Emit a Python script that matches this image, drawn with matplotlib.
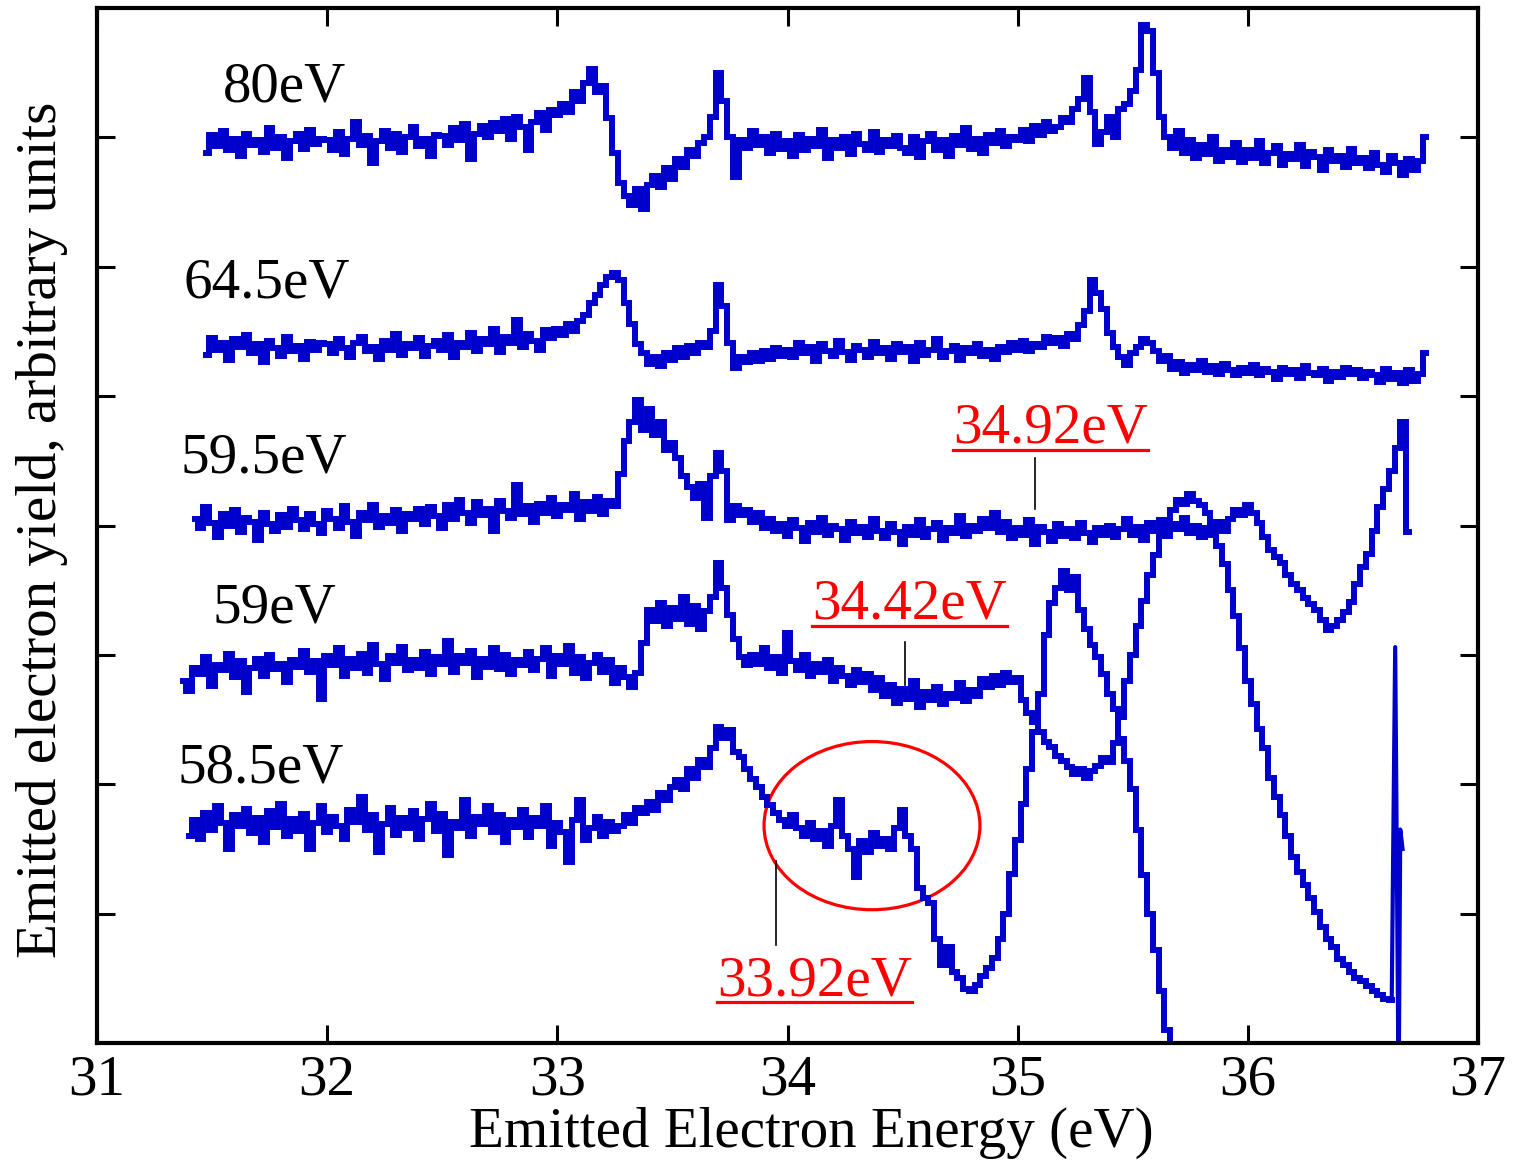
import matplotlib
matplotlib.use('Agg')
import matplotlib.pyplot as plt
from matplotlib.patches import Ellipse
from matplotlib.lines import Line2D
import numpy as np

# energy grid spacing of the scans (eV)
step = 0.025

# 80 eV photon energy, starts at 31.475 eV
y80 = [688, 702, 693, 705, 690, 699, 686, 703, 694, 698, 689, 707, 692, 700, 684, 697, 703, 691, 706, 695, 699,
       698, 690, 704, 687, 699, 712, 694, 701, 680, 697, 705, 692, 703, 689, 700, 708, 693, 699, 686, 702,
       701, 694, 707, 698, 710, 683, 703, 709, 700, 711, 705, 714, 699, 716, 708, 690, 712, 719, 706, 721,
       717, 726, 720, 735, 728, 742, 753, 735, 740, 715, 688, 665, 655, 648, 660, 645, 663, 670, 662, 676,
       668, 683, 677, 690, 686, 696, 700, 716, 750, 728, 700, 669, 698, 692, 705, 694, 700, 688, 703, 691,
       697, 686, 702, 690, 699, 693, 706, 684, 698, 692, 700, 687, 703, 695, 690, 704, 689, 698, 693, 701,
       692, 688, 700, 685, 697, 703, 690, 698, 686, 701, 694, 707, 691, 699, 688, 702, 696, 705, 693, 700,
       698, 706, 697, 709, 702, 712, 705, 708, 715, 712, 722, 730, 746, 720, 695, 704, 716, 700, 722, 726,
       736, 752, 787, 782, 750, 716, 700, 692, 705, 688, 698, 684, 694, 687, 700, 682, 690, 685, 696, 681,
       690, 684, 697, 680, 688, 693, 679, 687, 683, 694, 678, 689, 685, 675, 690, 682, 686, 677, 691, 680,
       684, 676, 688, 679, 673, 686, 680, 671, 683, 675, 682, 700]

# 64.5 eV, starts at 31.475 eV
y645 = [532, 545, 536, 541, 528, 544, 538, 547, 533, 540, 526, 543, 537, 531, 546, 535, 539, 529, 542, 536, 541,
        540, 533, 544, 537, 530, 541, 546, 535, 538, 529, 543, 536, 548, 532, 540, 537, 545, 531, 539, 543,
        536, 547, 530, 541, 538, 549, 535, 544, 540, 552, 534, 546, 541, 559, 538, 548, 543, 536, 551, 545,
        552, 547, 556, 550, 558, 563, 572, 578, 586, 592, 595, 590, 572, 556, 540, 533, 525, 530, 523, 533,
        528, 537, 530, 539, 533, 541, 538, 550, 586, 570, 541, 522, 530, 526, 533, 527, 535, 529, 537, 531,
        536, 530, 541, 533, 538, 527, 540, 535, 531, 543, 534, 528, 539, 536, 530, 542, 533, 537, 529, 540,
        534, 538, 527, 541, 532, 536, 544, 530, 535, 539, 528, 537, 533, 540, 531, 536, 529, 538, 534, 541,
        536, 543, 535, 540, 538, 546, 541, 545, 539, 548, 544, 555, 566, 590, 580, 567, 549, 538, 530, 524,
        533, 538, 544, 541, 535, 527, 531, 521, 526, 518, 524, 520, 527, 519, 523, 517, 525, 520, 516, 522,
        518, 524, 516, 521, 519, 513, 522, 517, 520, 514, 523, 518, 516, 521, 512, 519, 515, 522, 517, 520,
        514, 519, 516, 511, 521, 513, 518, 510, 520, 512, 517, 533]

# 59.5 eV, starts at 31.425 eV
y595 = [405, 398, 414, 402, 391, 409, 400, 412, 395, 406, 403, 389, 410, 401, 396, 408, 399, 413, 404, 397,
        409, 401, 394, 411, 405, 398, 415, 403, 392, 410, 404, 416, 399, 407, 402, 412, 396, 409, 405, 413,
        401, 414, 407, 398, 416, 405, 420, 410, 402, 418, 408, 413, 396, 419, 411, 406, 431, 409, 415, 403,
        417, 410, 421, 407, 416, 412, 424, 405, 418, 411, 422, 409, 419, 415, 440, 465, 480, 497, 474, 490,
        470, 480, 458, 464, 452, 438, 430, 421, 432, 406, 438, 456, 442, 404, 415, 408, 412, 403, 410, 398,
        405, 396, 401, 392, 404, 398, 388, 402, 395, 406, 393, 400, 397, 389, 403, 394, 399, 391, 405, 396,
        390, 401, 395, 386, 399, 393, 404, 391, 397, 402, 389, 398, 394, 407, 392, 400, 396, 405, 398, 410,
        395, 403, 390, 398, 393, 404, 386, 399, 395, 388, 401, 392, 397, 390, 402, 394, 387, 398, 393, 400,
        391, 397, 405, 393, 399, 389, 402, 396, 404, 392, 401, 397, 406, 394, 400, 391, 398, 393, 403, 396,
        405, 412, 408, 416, 410, 402, 391, 381, 376, 371, 362, 355, 350, 344, 339, 335, 327, 319, 322, 327,
        333, 341, 355, 368, 378, 396, 414, 428, 442, 460, 480, 395]

# 59 eV, starts at 31.375 eV, plus an irregular tail at the end
y59 = [280, 272, 290, 285, 298, 276, 292, 288, 301, 283, 295, 271, 290, 297, 284, 300, 289, 293, 279, 296,
       291, 303, 287, 295, 266, 299, 292, 305, 284, 297, 290, 301, 286, 308, 293, 281, 299, 294, 306, 288,
       296, 290, 302, 285, 298, 293, 311, 287, 299, 294, 303, 283, 297, 291, 305, 289, 300, 285, 296, 292,
       302, 288, 297, 305, 284, 299, 293, 307, 286, 298, 282, 294, 300, 287, 296, 278, 290, 283, 275, 286,
       309, 335, 326, 340, 322, 336, 328, 345, 324, 338, 320, 334, 345, 371, 352, 331, 312, 298, 292, 300,
       293, 305, 290, 298, 286, 317, 295, 288, 300, 284, 293, 287, 296, 280, 290, 284, 277, 288, 279, 285,
       273, 282, 268, 277, 263, 274, 266, 280, 260, 271, 265, 275, 262, 270, 267, 278, 264, 273, 268, 281,
       275, 284, 277, 286, 279, 282, 265, 255, 248, 240, 233, 229, 222, 218, 213, 208, 212, 205, 210, 214,
       220, 217, 232, 252, 280, 300, 322, 342, 362, 377, 392, 404, 412, 420, 417, 424, 419, 416, 410, 398,
       384, 370, 350, 330, 305, 280, 262, 243, 228, 205, 190, 176, 160, 144, 132, 122, 112, 101, 90, 80,
       74, 65, 60, 55, 50, 48, 44, 40, 37, 34, 33]
x59_tail = [36.625, 36.64, 36.655, 36.662, 36.672]
y59_tail = [33, 306, -40, 165, 150]

# 58.5 eV, starts at 31.4 eV
y585 = [160, 172, 158, 178, 165, 183, 170, 150, 176, 168, 181, 162, 174, 155, 179, 167, 185, 160, 173, 164,
        177, 150, 170, 183, 163, 175, 168, 158, 180, 171, 190, 165, 176, 148, 169, 182, 161, 174, 166, 179,
        158, 173, 185, 164, 177, 145, 171, 166, 188, 160, 175, 169, 183, 163, 176, 155, 172, 167, 180, 159,
        174, 168, 183, 152, 170, 163, 140, 172, 188, 157, 166, 175, 160, 171, 164, 168, 176, 170, 182, 178,
        186, 180, 193, 188, 198, 203, 196, 212, 205, 219, 213, 228, 244, 236, 242, 225, 221, 212, 204, 198,
        190, 184, 178, 172, 168, 176, 166, 160, 170, 158, 164, 152, 168, 188, 160, 150, 128, 156, 148, 162,
        152, 158, 150, 166, 180, 160, 150, 120, 112, 108, 80, 60, 74, 55, 50, 42, 40, 45, 52, 58,
        66, 80, 100, 131, 157, 185, 212, 240, 270, 315, 340, 352, 365, 350, 360, 335, 320, 308, 298, 285,
        270, 258, 235, 218, 196, 165, 130, 100, 72, 40, 10, -20, -50]

starts = {'80eV': 31.475, '64.5eV': 31.475, '59.5eV': 31.425, '59eV': 31.375, '58.5eV': 31.4}

# curve labels (left edge x, baseline y)
label_pos = {'80eV': (31.547, 728), '64.5eV': (31.374, 576), '59.5eV': (31.365, 441),
             '59eV': (31.50, 325), '58.5eV': (31.348, 201)}

# red marks: text, text position, marker line (x, y_top, y_bottom)
marks = [('34.92eV', (34.718, 464), (35.075, 452, 413)),
         ('34.42eV', (34.106, 328), (34.51, 310, 277)),
         ('33.92eV', (33.694, 37), (33.95, 141, 76))]

plt.rcParams['font.family'] = ['Liberation Serif', 'DejaVu Serif']
blue = '#0000cd'

fig = plt.figure(figsize=(15.2, 11.63), dpi=100)
ax = fig.add_axes([0.0638, 0.1032, 0.9086, 0.8899])

curves = [('80eV', y80), ('64.5eV', y645), ('59.5eV', y595), ('59eV', y59), ('58.5eV', y585)]
for name, ys in curves:
    xs = starts[name] + step * np.arange(len(ys))
    ax.plot(xs, ys, color=blue, lw=4.3, drawstyle='steps-mid', solid_joinstyle='miter')
    lx, ly = label_pos[name]
    ax.text(lx, ly, name, fontsize=41, va='baseline', ha='left')

# thin spike at the end of the 59 eV scan
ax.plot(x59_tail, y59_tail, color=blue, lw=3.0)

# circled region on the 58.5 eV curve
ax.add_patch(Ellipse((34.367, 168), 0.938, 130, fill=False, edgecolor='red', lw=2.3))

red_texts = []
for txt, (tx, ty), (mx, m0, m1) in marks:
    t = ax.text(tx, ty, txt, fontsize=41, color='red', va='baseline', ha='left')
    red_texts.append(t)
    ax.plot([mx, mx], [m0, m1], color='black', lw=1.2)

ax.set_xlim(31, 37)
ax.set_ylim(0, 800)
ax.set_xticks([31, 32, 33, 34, 35, 36, 37])
ax.set_yticks([100, 200, 300, 400, 500, 600, 700])
ax.tick_params(direction='in', length=13, width=2.2, top=True, right=True,
               labelleft=False, labelsize=41, pad=8)
for s in ax.spines.values():
    s.set_linewidth(3)

ax.set_xlabel('Emitted Electron Energy (eV)', fontsize=41)
ax.xaxis.set_label_coords(0.517, -0.062)
ax.set_ylabel('Emitted electron yield, arbitrary units', fontsize=41)
ax.yaxis.set_label_coords(-0.021, 0.496)

# underline the red labels
fig.canvas.draw()
W, H = fig.canvas.get_width_height()
for t in red_texts:
    bb = t.get_window_extent()
    yline = (bb.y0 + 5) / H
    fig.add_artist(Line2D([bb.x0 / W, bb.x1 / W], [yline, yline], color='red', lw=2.3))

fig.savefig('out.png', dpi=100)
